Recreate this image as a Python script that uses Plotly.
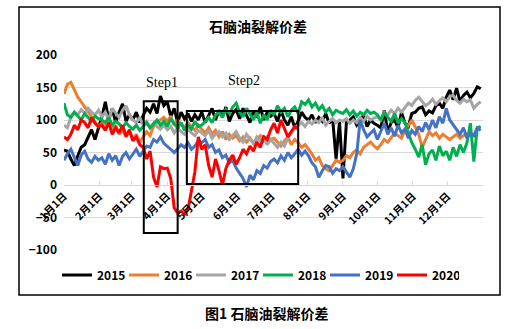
import plotly.graph_objects as go

# Day-of-year sampling (every 3rd day) for the crack-spread series
days = list(range(0, 365, 3))

month_starts = [0, 31, 59, 90, 120, 151, 181, 212, 243, 273, 304, 334, 365]
month_labels = ["1月1日", "2月1日", "3月1日", "4月1日", "5月1日", "6月1日",
                "7月1日", "8月1日", "9月1日", "10月1日", "11月1日", "12月1日", ""]

y2015 = [54, 52, 40, 30, 45, 58, 62, 74, 85, 70, 88,
         105, 128, 100, 118, 96, 112, 125, 98, 108,
         100, 112, 96, 108, 118, 112, 125, 110, 137, 122,
         128, 105, 118, 96, 112, 102, 110, 98, 108, 100,
         112, 96, 108, 118, 100, 115, 104, 120, 98, 110, 116,
         102, 118, 108, 96, 114, 104, 120, 100, 112, 106,
         110, 98, 115, 100, 92, 105, 88, 98, 112, 104,
         100, 108, 96, 104, 98, 110, 95, 102, 40, 98,
         10, 96, 100, 105, 92, 98, 108, 90, 100, 95,
         92, 88, 115, 82, 96, 100, 88, 112, 95, 90, 110,
         112, 118, 120, 108, 114, 111, 122, 126, 118, 135,
         146, 131, 149, 128, 138, 143, 134, 141, 151, 148]

y2016 = [140, 155, 158, 146, 135, 128, 120, 112, 105, 98, 90,
         95, 88, 100, 84, 92, 78, 86, 74, 82,
         70, 78, 66, 74, 82, 76, 90, 96, 100, 104,
         98, 106, 92, 100, 94, 88, 96, 90, 84, 92,
         86, 80, 88, 78, 84, 74, 82, 70, 78, 72, 76,
         68, 74, 66, 72, 64, 70, 76, 68, 74, 70,
         72, 66, 60, 68, 74, 62, 70, 65, 58, 62,
         55, 48, 38, 42, 30, 25, 22, 30, 38, 35,
         38, 45, 42, 50, 54, 48, 58, 62, 66, 60,
         56, 62, 70, 66, 74, 80, 76, 72, 84, 92, 100,
         89, 78, 58, 70, 82, 76, 80, 72, 78, 74,
         70, 74, 78, 72, 76, 80]

y2017 = [92, 88, 105, 112, 108, 116, 110, 118, 112, 108, 115,
         105, 112, 100, 118, 110, 104, 115, 122, 108,
         100, 96, 104, 92, 98, 88, 95, 90, 86, 92,
         85, 90, 80, 88, 82, 78, 86, 80, 76, 84,
         80, 76, 84, 72, 78, 82, 74, 80, 70, 76, 82,
         72, 66, 78, 70, 64, 74, 68, 76, 62, 70,
         64, 58, 66, 60, 72, 80, 88, 92, 96, 90,
         98, 94, 100, 96, 104, 92, 98, 102, 96, 100,
         98, 102, 95, 100, 96, 104, 98, 106, 100, 103,
         105, 100, 112, 108, 115, 110, 118, 112, 120, 126, 122,
         130, 135, 128, 122, 126, 132, 124, 130, 134, 128,
         136, 138, 130, 126, 132, 128, 131, 118, 124, 128]

y2018 = [126, 108, 104, 112, 106, 100, 110, 104, 98, 106, 102,
         100, 96, 104, 92, 98, 94, 88, 96, 90,
         86, 92, 84, 90, 96, 88, 94, 100, 92, 98,
         90, 102, 94, 88, 96, 84, 92, 86, 98, 90,
         92, 98, 104, 96, 108, 112, 104, 116, 110, 120, 126,
         112, 105, 118, 110, 100, 112, 95, 108, 100, 115,
         108, 122, 112, 118, 105, 115, 120, 110, 128, 124,
         131, 120, 126, 116, 122, 112, 118, 108, 115, 112,
         110, 116, 108, 114, 106, 112, 108, 115, 110, 112,
         108, 100, 112, 104, 98, 110, 95, 102, 96, 80, 65,
         55, 43, 62, 31, 48, 54, 38, 60, 45, 52,
         38, 58, 44, 62, 50, 65, 95, 36, 88, 90]

y2019 = [38, 48, 55, 42, 30, 46, 52, 40, 35, 44, 38,
         42, 32, 48, 38, 45, 30, 44, 50, 40,
         48, 55, 44, 52, 60, 58, 70, 66, 74, 64,
         60, 55, 50, 56, 62, 58, 65, 55, 60, 68,
         65, 70, 58, 62, 50, 54, 42, 46, 34, 38, 26,
         18, 10, -3, 15, 8, 22, 18, 30, 26, 36,
         40, 34, 45, 38, 50, 42, 48, 55, 46, 52,
         45, 34, 28, 12, 22, 30, 28, 18, 25, 22,
         28, 20, 12, 25, 48, 100, 85, 74, 80, 85,
         70, 82, 95, 78, 88, 75, 92, 80, 86, 72, 84,
         78, 90, 82, 96, 85, 100, 88, 105, 95, 118,
         100, 92, 85, 78, 88, 72, 80, 76, 88, 84]

y2020 = [74, 70, 78, 92, 85, 100, 96, 88, 104, 95, 90,
         92, 84, 96, 78, 88, 80, 92, 75, 85,
         68, 74, 62, 58, 40, 52, 12, -3, 28, 25,
         26, 10, -35, -43, -40, -45, -38, -8, 20, 74,
         55, 62, 30, 12, 40, 22, 0, 25, 38, 46, 32,
         42, 55, 48, 60, 52, 66, 58, 74, 70, 85,
         95, 80, 100, 88, 74, 82, 90, 86]

series = [
    ("2015", y2015, "#000000"),
    ("2016", y2016, "#ED7D31"),
    ("2017", y2017, "#A5A5A5"),
    ("2018", y2018, "#00B050"),
    ("2019", y2019, "#4472C4"),
    ("2020", y2020, "#FF0000"),
]

# Plot-area geometry in pixels, used to place the frame and caption
W, H = 520, 329
L, R, T, B = 64, 37, 55, 79
pw, ph = W - L - R, H - T - B


def px_x(x):
    return (x - L) / pw


def px_y(y):
    return (H - B - y) / ph


SANS = "Noto Sans CJK SC"
SERIF = "Liberation Serif"

fig = go.Figure()
for name, vals, color in series:
    fig.add_trace(go.Scatter(
        x=days[:len(vals)], y=vals, name=name, mode="lines",
        line=dict(color=color, width=3),
    ))

fig.update_layout(
    width=W, height=H, autosize=False,
    margin=dict(l=L, r=R, t=T, b=B, autoexpand=False),
    paper_bgcolor="white", plot_bgcolor="white",
    title=dict(text="石脑油裂解价差", x=258 / W, xanchor="center",
               y=1 - 27 / H, yanchor="middle",
               font=dict(family=SANS, size=14, color="#000", weight="bold")),
    showlegend=True,
    legend=dict(orientation="h", x=px_x(258), xanchor="center",
                y=px_y(275), yanchor="middle",
                font=dict(family=SANS, size=12, color="#000", weight="bold"),
                itemwidth=30, entrywidth=22, bgcolor="rgba(0,0,0,0)"),
)

fig.update_yaxes(range=[-100, 200], dtick=50, showgrid=True, gridcolor="#d9d9d9",
                 gridwidth=1, zeroline=False, showline=False, ticks="",
                 ticklabelstandoff=6,
                 tickfont=dict(family=SANS, size=12, color="#000", weight="bold"))

fig.update_xaxes(range=[0, 365], tickmode="array", tickvals=month_starts,
                 ticktext=month_labels, tickangle=-45,
                 anchor="free", position=1 / 3,
                 showgrid=False, zeroline=False, showline=True, linecolor="#d9d9d9",
                 ticks="inside", ticklen=4, tickcolor="#d9d9d9",
                 tickfont=dict(family=SANS, size=10.5, color="#000", weight="bold"))

# Highlight boxes for the two phases
fig.add_shape(type="rect", xref="x", yref="y", x0=69.5, x1=99, y0=-74, y1=129,
              line=dict(color="black", width=2), layer="above")
fig.add_shape(type="rect", xref="x", yref="y", x0=107, x1=204, y0=1.5, y1=114,
              line=dict(color="black", width=2), layer="above")
fig.add_annotation(x=85, y=158, xref="x", yref="y", text="Step1", showarrow=False,
                   font=dict(family=SERIF, size=14, color="#000"))
fig.add_annotation(x=157, y=161, xref="x", yref="y", text="Step2", showarrow=False,
                   font=dict(family=SERIF, size=14, color="#000"))

# Outer frame and figure caption
fig.add_shape(type="rect", xref="paper", yref="paper",
              x0=px_x(19), x1=px_x(500), y0=px_y(295), y1=px_y(7),
              line=dict(color="black", width=1.5), layer="above")
fig.add_annotation(x=px_x(266), y=px_y(313), xref="paper", yref="paper",
                   yanchor="middle", text="图1 石脑油裂解价差", showarrow=False,
                   font=dict(family=SANS, size=14, color="#000", weight="bold"))

fig.write_html("out.html")
